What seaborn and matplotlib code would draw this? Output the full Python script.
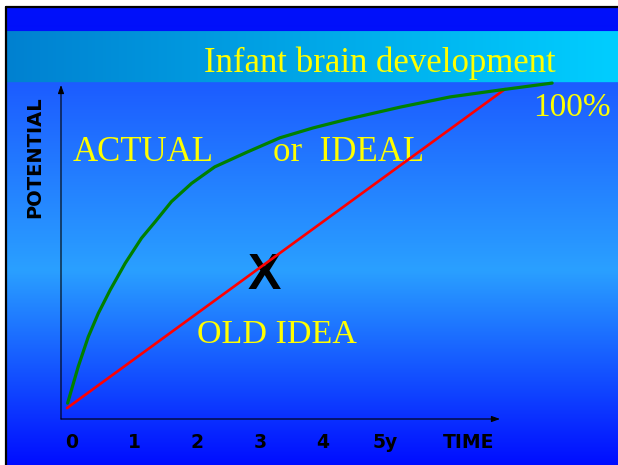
import matplotlib
matplotlib.use("Agg")
import matplotlib.pyplot as plt
import pandas as pd
import seaborn as sns
import numpy as np

sns.set_style("white")

# potential (% of adult) against age in years
years_actual = [-0.07, 0.10, 0.26, 0.42, 0.61, 0.85, 1.11, 1.33, 1.59, 1.91,
                2.28, 2.80, 3.32, 3.85, 4.39, 5.24, 6.04, 6.84, 7.67]
potential_actual = [4.8, 15.9, 24.9, 32.0, 39.1, 47.2, 54.8, 59.8, 65.9, 71.4,
                    76.4, 80.9, 85.2, 88.2, 90.8, 94.5, 97.6, 99.7, 101.8]
years_old = [-0.08, 6.92]
potential_old = [3.3, 100.0]

tick_years = [0, 1, 2, 3, 4, 5, 6.33]
tick_labels = ["0", "1", "2", "3", "4", "5y", "TIME"]

W, H = 618, 465
fig = plt.figure(figsize=(W / 100, H / 100), dpi=100)
fig.patch.set_facecolor("white")

# slide background (pixel coords, y down)
bg = fig.add_axes([0, 0, 1, 1], zorder=0)
bg.set_xlim(0, W)
bg.set_ylim(H, 0)
bg.axis("off")

img = np.ones((H, W, 3))
top = np.array([28, 92, 255]) / 255
mid = np.array([42, 160, 255]) / 255
bot = np.array([0, 12, 255]) / 255
for y in range(H):
    if y < 270:
        f = max(0, (y - 83) / (270 - 83))
        img[y] = top + (mid - top) * f
    else:
        f = (y - 270) / (H - 270)
        img[y] = mid + (bot - mid) * f
img[8:32] = np.array([0, 16, 250]) / 255
xs = np.linspace(0, 1, W)[:, None]
cl = np.array([0, 128, 208]) / 255
cr = np.array([0, 206, 255]) / 255
img[32:83] = (cl + (cr - cl) * xs)[None, :, :]
img[:8, :] = 1
img[:, :7] = 1
bg.imshow(img, extent=(0, W, H, 0), aspect="auto", interpolation="bilinear")
bg.set_xlim(0, W)
bg.set_ylim(H, 0)
bg.plot([5.5, 5.5], [7, H], color="black", lw=1.6)
bg.plot([5.5, W], [7, 7], color="black", lw=1.6)

yellow = "#ffff00"
serif = "Liberation Serif"
bg.text(380, 72, "Infant brain development", color=yellow, family=serif,
        fontsize=25, ha="center", va="baseline")
bg.text(73, 161, "ACTUAL", color=yellow, family=serif, fontsize=25,
        ha="left", va="baseline")
bg.text(273, 161, "or  IDEAL", color=yellow, family=serif, fontsize=25,
        ha="left", va="baseline")
bg.text(533, 116, "100%", color=yellow, family=serif, fontsize=24,
        ha="left", va="baseline")
bg.text(197, 343, "OLD IDEA", color=yellow, family=serif, fontsize=24.5,
        ha="left", va="baseline")
bg.text(264, 276, "X", color="black", family="Liberation Sans",
        fontweight="bold", fontsize=36, ha="center", va="center")
bg.text(35, 157, "POTENTIAL", color="black", family="DejaVu Sans",
        fontweight="bold", fontsize=14, rotation=90, ha="center", va="center")

# chart axes: x px = 72 + 62.6*t, y px = 419 - 3.3*p
ax = fig.add_axes([61 / W, 1 - 419 / H, 439 / W, 334 / H], zorder=1)
ax.set_facecolor("none")
ax.set_xlim((61 - 72) / 62.6, (500 - 72) / 62.6)
ax.set_ylim(0, (419 - 85) / 3.3)
for s in ax.spines.values():
    s.set_visible(False)

df_actual = pd.DataFrame({"t": years_actual, "p": potential_actual})
df_old = pd.DataFrame({"t": years_old, "p": potential_old})
sns.lineplot(data=df_old, x="t", y="p", ax=ax, color="#ff0000", lw=1.9,
             sort=False, estimator=None, clip_on=False)
sns.lineplot(data=df_actual, x="t", y="p", ax=ax, color="#008000", lw=2.3,
             sort=False, estimator=None, clip_on=False)

arrow = dict(arrowstyle="-|>,head_length=0.5,head_width=0.18", lw=0.8,
             color="black", shrinkA=0, shrinkB=0)
ax.annotate("", xy=(0, 1), xytext=(0, 0), xycoords="axes fraction", arrowprops=arrow)
ax.annotate("", xy=(1, 0), xytext=(0, 0), xycoords="axes fraction", arrowprops=arrow)

ax.set_xticks(tick_years)
ax.set_xticklabels(tick_labels, family="DejaVu Sans", fontweight="bold",
                   fontsize=13.5, color="black")
ax.set_yticks([])
ax.tick_params(axis="x", length=0, pad=10)
ax.set_xlabel("")
ax.set_ylabel("")

fig.savefig("out.png", dpi=100)
